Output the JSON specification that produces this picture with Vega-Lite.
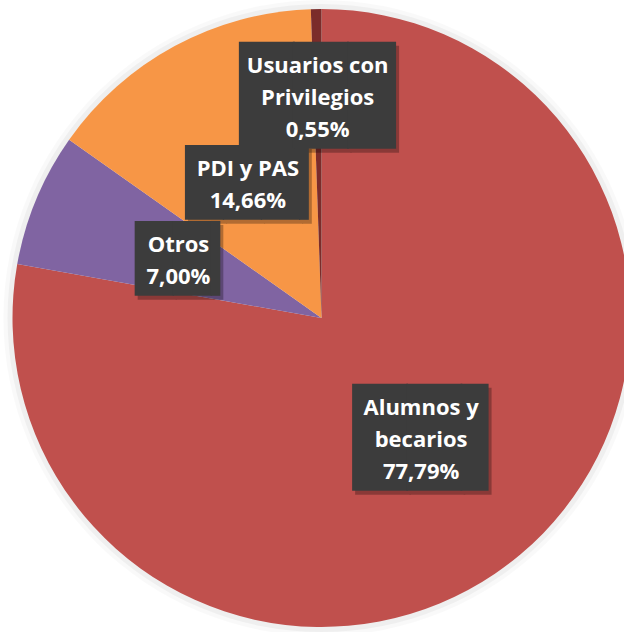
{
  "$schema": "https://vega.github.io/schema/vega-lite/v6.json",
  "width": 643,
  "height": 636,
  "autosize": {"type": "none"},
  "padding": 0,
  "background": "white",
  "config": {"view": {"stroke": null}},
  "data": {"values": [
    {"cat": "Alumnos y becarios", "value": 77.79, "label": "Alumnos y\nbecarios\n77,79%", "order": 1},
    {"cat": "Otros", "value": 7.00, "label": "Otros\n7,00%", "order": 2},
    {"cat": "PDI y PAS", "value": 14.66, "label": "PDI y PAS\n14,66%", "order": 3},
    {"cat": "Usuarios con Privilegios", "value": 0.55, "label": "Usuarios con\nPrivilegios\n0,55%", "order": 4}
  ]},
  "encoding": {
    "theta": {"field": "value", "type": "quantitative", "stack": true, "scale": {"domain": [0, 100]}},
    "order": {"field": "order", "type": "quantitative", "sort": "ascending"}
  },
  "layer": [
    {
      "data": {"values": [{}]},
      "mark": {"type": "arc", "outerRadius": 318, "fill": "#000000", "opacity": 0.025},
      "encoding": {"theta": null, "order": null}
    },
    {
      "data": {"values": [{}]},
      "mark": {"type": "arc", "outerRadius": 314, "fill": "#000000", "opacity": 0.04},
      "encoding": {"theta": null, "order": null}
    },
    {
      "mark": {"type": "arc", "outerRadius": 309},
      "encoding": {
        "color": {"field": "cat", "type": "nominal",
          "scale": {"domain": ["Alumnos y becarios", "Otros", "PDI y PAS", "Usuarios con Privilegios"],
                    "range": ["#C0504D", "#8064A2", "#F79646", "#7B2C2A"]},
          "legend": null}
      }
    },
    {
      "mark": {"type": "text", "radius": 155, "font": "DejaVu Sans Mono", "fontSize": 90, "baseline": "middle", "align": "left", "dx": -65, "dy": 8, "fill": "#000000", "opacity": 0.28},
      "encoding": {"text": {"condition": {"test": "datum.cat === 'Alumnos y becarios'", "value": "██▌"}, "value": ""}}
    },
    {
      "mark": {"type": "text", "radius": 155, "font": "DejaVu Sans Mono", "fontSize": 63, "baseline": "middle", "align": "left", "dx": -59, "dy": 7, "fill": "#000000", "opacity": 0.28},
      "encoding": {"text": {"condition": {"test": "datum.cat === 'PDI y PAS'", "value": "███▎"}, "value": ""}}
    },
    {
      "mark": {"type": "text", "radius": 155, "font": "DejaVu Sans Mono", "fontSize": 63, "baseline": "middle", "align": "left", "dx": -40, "dy": 7, "fill": "#000000", "opacity": 0.28},
      "encoding": {"text": {"condition": {"test": "datum.cat === 'Otros'", "value": "██▎"}, "value": ""}}
    },
    {
      "mark": {"type": "text", "radius": 223, "font": "DejaVu Sans Mono", "fontSize": 90, "baseline": "middle", "align": "left", "dx": -75, "dy": 8, "fill": "#000000", "opacity": 0.28},
      "encoding": {"text": {"condition": {"test": "datum.cat === 'Usuarios con Privilegios'", "value": "██▉"}, "value": ""}}
    },
    {
      "mark": {"type": "text", "radius": 155, "font": "DejaVu Sans Mono", "fontSize": 90, "baseline": "middle", "align": "left", "dx": -68, "dy": 4, "fill": "#3c3c3c"},
      "encoding": {"text": {"condition": {"test": "datum.cat === 'Alumnos y becarios'", "value": "██▌"}, "value": ""}}
    },
    {
      "mark": {"type": "text", "radius": 155, "font": "DejaVu Sans Mono", "fontSize": 63, "baseline": "middle", "align": "left", "dx": -62, "dy": 3, "fill": "#3c3c3c"},
      "encoding": {"text": {"condition": {"test": "datum.cat === 'PDI y PAS'", "value": "███▎"}, "value": ""}}
    },
    {
      "mark": {"type": "text", "radius": 155, "font": "DejaVu Sans Mono", "fontSize": 63, "baseline": "middle", "align": "left", "dx": -43, "dy": 3, "fill": "#3c3c3c"},
      "encoding": {"text": {"condition": {"test": "datum.cat === 'Otros'", "value": "██▎"}, "value": ""}}
    },
    {
      "mark": {"type": "text", "radius": 223, "font": "DejaVu Sans Mono", "fontSize": 90, "baseline": "middle", "align": "left", "dx": -78, "dy": 4, "fill": "#3c3c3c"},
      "encoding": {"text": {"condition": {"test": "datum.cat === 'Usuarios con Privilegios'", "value": "██▉"}, "value": ""}}
    },
    {
      "mark": {"type": "text", "radius": 155, "font": "Open Sans", "fontWeight": "bold", "fontSize": 22, "lineHeight": 32, "lineBreak": "\n", "baseline": "middle", "align": "center", "dy": -29, "fill": "#ffffff"},
      "encoding": {"text": {"condition": {"test": "datum.cat === 'Alumnos y becarios'", "field": "label"}, "value": ""}}
    },
    {
      "mark": {"type": "text", "radius": 155, "font": "Open Sans", "fontWeight": "bold", "fontSize": 22, "lineHeight": 32, "lineBreak": "\n", "baseline": "middle", "align": "center", "dy": -13, "fill": "#ffffff"},
      "encoding": {"text": {"condition": {"test": "datum.cat === 'PDI y PAS' || datum.cat === 'Otros'", "field": "label"}, "value": ""}}
    },
    {
      "mark": {"type": "text", "radius": 223, "font": "Open Sans", "fontWeight": "bold", "fontSize": 22, "lineHeight": 32, "lineBreak": "\n", "baseline": "middle", "align": "center", "dy": -29, "fill": "#ffffff"},
      "encoding": {"text": {"condition": {"test": "datum.cat === 'Usuarios con Privilegios'", "field": "label"}, "value": ""}}
    }
  ]
}
